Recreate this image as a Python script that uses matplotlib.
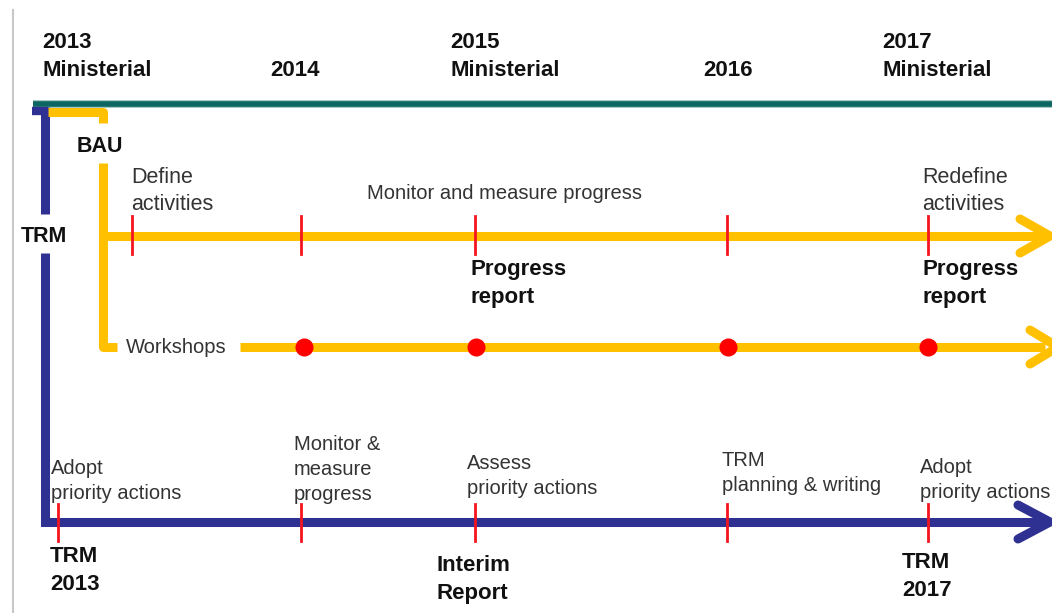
import matplotlib.pyplot as plt

plt.rcParams['font.family'] = ['Liberation Sans', 'DejaVu Sans']

# timeline header (label, x, baseline of first line)
header_labels = ['2013\nMinisterial', '2014', '2015\nMinisterial', '2016', '2017\nMinisterial']
header_x = [42, 270, 450, 703, 882]
header_y = [48, 76, 48, 76, 48]

# BAU track
bau_tick_x = [132, 301, 475, 727, 928]
workshop_x = [304, 476, 728, 928]
bau_top_labels = ['Define\nactivities', 'Monitor and measure progress', 'Redefine\nactivities']
bau_top_x = [131, 367, 922]
bau_top_y = [183, 199, 183]
bau_top_size = [15.5, 14.5, 15.5]
bau_bottom_labels = ['Progress\nreport', 'Progress\nreport']
bau_bottom_x = [470, 922]

# TRM track
trm_tick_x = [58, 301, 475, 727, 928]
trm_top_labels = ['Adopt\npriority actions', 'Monitor &\nmeasure\nprogress', 'Assess\npriority actions',
                  'TRM\nplanning & writing', 'Adopt\npriority actions']
trm_top_x = [51, 294, 467, 722, 920]
trm_top_y = [474, 450, 469, 466, 473]
trm_bottom_labels = ['TRM\n2013', 'Interim\nReport', 'TRM\n2017']
trm_bottom_x = [50, 437, 902]
trm_bottom_y = [562, 571, 568]

teal = '#0d6661'
navy = '#2e3092'
yellow = '#ffc000'
red = '#f5141e'
dark = '#111111'
grey = '#333333'

fig = plt.figure(figsize=(10.52, 6.13), dpi=100)
ax = fig.add_axes([0, 0, 1, 1])
ax.set_xlim(0, 1052)
ax.set_ylim(613, 0)
ax.axis('off')


def label(x, y, s, pitch, **kw):
    for i, line in enumerate(s.split('\n')):
        ax.text(x, y + i * pitch, line, va='baseline', ha='left', **kw)


# frame line on the left
ax.plot([13, 13], [10, 613], color='#c8c8c8', lw=1.5)

# teal top line
ax.plot([33, 1052], [103.5, 103.5], color='#8fbcb9', lw=5.5, solid_capstyle='butt')
ax.plot([33, 1052], [103.5, 103.5], color=teal, lw=4, solid_capstyle='butt')

# navy TRM line (broken around the TRM label)
ax.plot([32, 48], [111, 111], color=navy, lw=6, solid_capstyle='butt')
ax.plot([44.5, 44.5], [107, 214], color=navy, lw=6.5, solid_capstyle='butt')
ax.plot([44.5, 44.5, 1045], [253, 522, 522], color=navy, lw=6.5, solid_capstyle='butt',
        solid_joinstyle='miter')
ax.plot([1018, 1050, 1018], [505, 522, 539], color=navy, lw=6.5, solid_capstyle='round',
        solid_joinstyle='miter')

# yellow BAU bracket and lines
ax.plot([48, 102.5, 102.5], [112, 112, 123], color=yellow, lw=6.5, solid_capstyle='butt',
        solid_joinstyle='round')
ax.plot([102.5, 102.5, 117], [163, 347, 347], color=yellow, lw=6.5, solid_capstyle='butt',
        solid_joinstyle='round')
ax.plot([102.5, 1045], [236, 236], color=yellow, lw=6.5, solid_capstyle='butt')
ax.plot([1020, 1050, 1020], [219, 236, 253], color=yellow, lw=6.5, solid_capstyle='round')
ax.plot([240, 1045], [347, 347], color=yellow, lw=6.5, solid_capstyle='butt')
ax.plot([1030, 1058, 1030], [330, 347, 364], color=yellow, lw=6.5, solid_capstyle='round')

# red ticks and dots
for x in bau_tick_x:
    ax.plot([x, x], [216, 254], color=red, lw=2)
for x in trm_tick_x:
    ax.plot([x, x], [504, 541], color=red, lw=2)
ax.plot(workshop_x, [347] * len(workshop_x), 'o', color='#ff0000', ms=13, mew=0)

# texts
for s, x, y in zip(header_labels, header_x, header_y):
    label(x, y, s, 28, fontsize=16, fontweight='bold', color=dark)
label(77, 152, 'BAU', 28, fontsize=15.5, fontweight='bold', color=dark)
label(21, 242, 'TRM', 28, fontsize=15.5, fontweight='bold', color=dark)
for s, x, y, fs in zip(bau_top_labels, bau_top_x, bau_top_y, bau_top_size):
    label(x, y, s, 27, fontsize=fs, color=grey)
for s, x in zip(bau_bottom_labels, bau_bottom_x):
    label(x, 275, s, 28, fontsize=16, fontweight='bold', color=dark)
label(126, 353, 'Workshops', 25, fontsize=14.5, color=grey)
for s, x, y in zip(trm_top_labels, trm_top_x, trm_top_y):
    label(x, y, s, 25, fontsize=14.5, color=grey)
for s, x, y in zip(trm_bottom_labels, trm_bottom_x, trm_bottom_y):
    label(x, y, s, 28, fontsize=16, fontweight='bold', color=dark)

fig.savefig('out.png', dpi=100)
